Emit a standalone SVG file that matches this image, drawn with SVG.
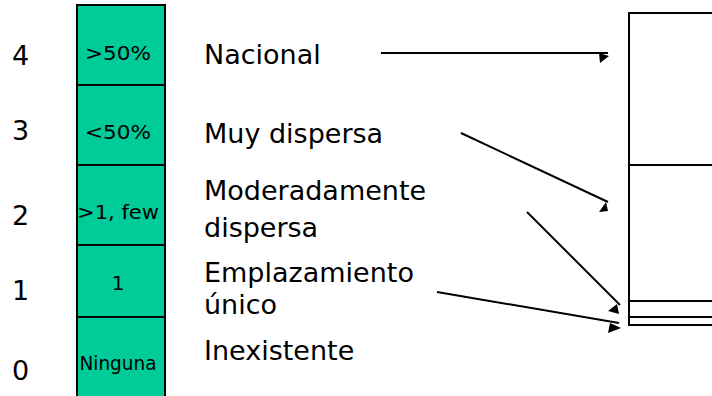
<svg xmlns="http://www.w3.org/2000/svg" width="712" height="396" viewBox="0 0 712 396">
<style>
.num{font-family:"DejaVu Sans",sans-serif;font-size:27px;fill:#000}
.lbl{font-family:"DejaVu Sans",sans-serif;font-size:27px;fill:#000}
.bt{font-family:"DejaVu Sans",sans-serif;font-size:20px;fill:#000;text-anchor:middle}
.cell{fill:#00cc99;stroke:#000;stroke-width:2}
.ln{stroke:#000;stroke-width:2;fill:none}
.ah{fill:#000}
</style>
<rect width="712" height="396" fill="#fff"/>
<g id="levels">
<text class="num" x="12" y="65">4</text>
<text class="num" x="12" y="140">3</text>
<text class="num" x="12" y="225">2</text>
<text class="num" x="12" y="300">1</text>
<text class="num" x="12" y="380">0</text>
</g>
<g id="scale">
<g id="cell4"><rect class="cell" x="77" y="5" width="88" height="80"/><text class="bt" x="118" y="60" textLength="66" lengthAdjust="spacingAndGlyphs">&gt;50%</text></g>
<g id="cell3"><rect class="cell" x="77" y="85" width="88" height="80"/><text class="bt" x="118" y="139" textLength="66" lengthAdjust="spacingAndGlyphs">&lt;50%</text></g>
<g id="cell2"><rect class="cell" x="77" y="165" width="88" height="80"/><text class="bt" x="118" y="219" textLength="82" lengthAdjust="spacingAndGlyphs">&gt;1, few</text></g>
<g id="cell1"><rect class="cell" x="77" y="245" width="88" height="72"/><text class="bt" x="118" y="290">1</text></g>
<g id="cell0"><rect class="cell" x="77" y="317" width="88" height="84"/><text class="bt" x="118" y="370" textLength="77" lengthAdjust="spacingAndGlyphs">Ninguna</text></g>
</g>
<g id="labels">
<text class="lbl" x="204" y="64">Nacional</text>
<text class="lbl" x="204" y="143">Muy dispersa</text>
<text class="lbl" x="204" y="200">Moderadamente</text>
<text class="lbl" x="204" y="237">dispersa</text>
<text class="lbl" x="204" y="282">Emplazamiento</text>
<text class="lbl" x="204" y="314">único</text>
<text class="lbl" x="204" y="360">Inexistente</text>
</g>
<g id="bar">
<path class="ln" d="M720,13 H629 V325 H720"/>
<path class="ln" d="M629,165 H720 M629,301 H720 M629,317 H720"/>
</g>
<g id="connectors">
<line class="ln" x1="381" y1="53" x2="608" y2="53"/>
<polygon class="ah" points="599,53 609,56 600,63"/>
<line class="ln" x1="461" y1="133" x2="608" y2="202"/>
<polygon class="ah" points="606,202 608,211 599,212"/>
<line class="ln" x1="527" y1="212" x2="620" y2="305"/>
<polygon class="ah" points="617,304 619,314 608,311"/>
<line class="ln" x1="437" y1="292" x2="619" y2="323"/>
<polygon class="ah" points="610,323 621,328 608,333"/>
</g>
</svg>
